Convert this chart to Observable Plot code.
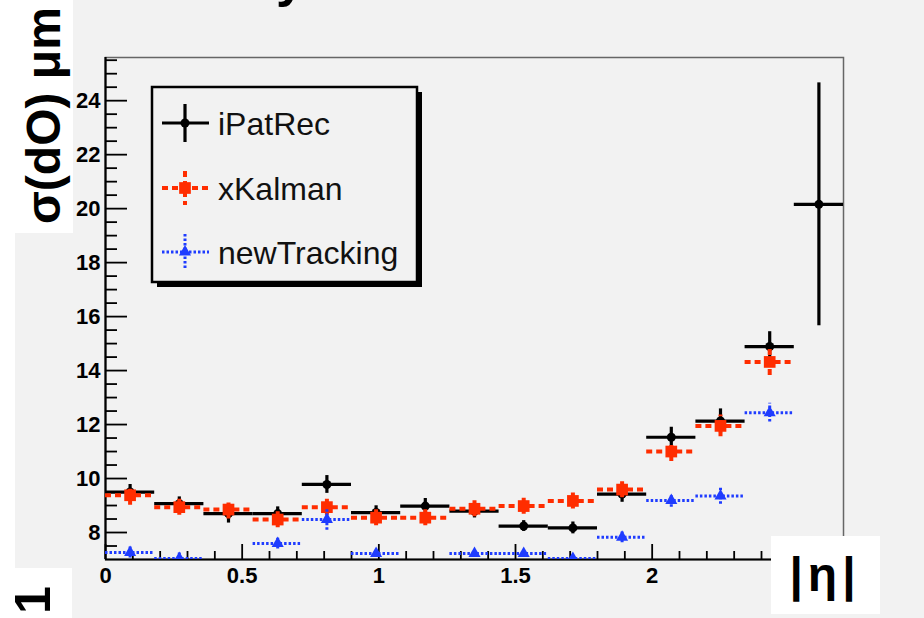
<!DOCTYPE html>
<html>
<head>
<meta charset="utf-8">
<script src="https://cdn.jsdelivr.net/npm/d3@7"></script>
<script src="https://cdn.jsdelivr.net/npm/@observablehq/plot@0.6"></script>
<style>
  html, body { margin: 0; padding: 0; background: #f2f2f2; }
  #wrap { position: relative; width: 924px; height: 618px; overflow: hidden; background: #f2f2f2; }
  #wrap svg { position: absolute; left: 0; top: 0; }
  .plt g[aria-label$="tick label"], .plt g[aria-label$="tick label"] text {
    font-size: 22px !important; font-weight: bold !important; font-family: 'Liberation Sans', Arial, sans-serif;
  }
</style>
</head>
<body>
<div id="wrap"></div>
<script>
// ---- data ----
const binEdges = [0, 0.18, 0.36, 0.54, 0.72, 0.90, 1.08, 1.26, 1.44, 1.62, 1.80, 1.98, 2.16, 2.34, 2.52, 2.70];

const iPatRecVals = [9.50, 9.07, 8.70, 8.70, 9.78, 8.74, 8.98, 8.79, 8.24, 8.17, 9.42, 11.53, 12.13, 14.89, 20.16];
const iPatRecErrs = [0.28, 0.25, 0.35, 0.25, 0.33, 0.25, 0.28, 0.25, 0.20, 0.22, 0.30, 0.37, 0.45, 0.55, 4.50];

const xKalmanVals = [9.38, 8.94, 8.85, 8.48, 8.94, 8.55, 8.55, 8.88, 8.98, 9.17, 9.59, 11.00, 11.95, 14.32, null];
const xKalmanErrs = [0.37, 0.30, 0.35, 0.30, 0.30, 0.30, 0.30, 0.30, 0.30, 0.30, 0.30, 0.37, 0.40, 0.50, null];

const newTrackingVals = [7.26, 7.04, null, 7.59, 8.48, 7.22, null, 7.22, 7.22, 7.04, 7.82, 9.19, 9.35, 12.44, null];
const newTrackingErrs = [0.20, 0.20, null, 0.20, 0.40, 0.15, null, 0.15, 0.15, 0.15, 0.20, 0.25, 0.30, 0.35, null];

const seriesNames = ["iPatRec", "xKalman", "newTracking"];
const seriesColors = ["#000000", "#ff2d00", "#1f3cff"];

const yTicks = [8, 10, 12, 14, 16, 18, 20, 22, 24];
const yTickLabels = ["8", "10", "12", "14", "16", "18", "20", "22", "24"];
const yMinorTicks = d3.range(7.5, 25.6, 0.5).filter(v => v % 2 !== 0);
const xTicks = [0, 0.5, 1, 1.5, 2];
const xTickLabels = ["0", "0.5", "1", "1.5", "2"];
const xMinorTicks = d3.range(0.1, 2.65, 0.1).filter(v => Math.abs(v * 2 - Math.round(v * 2)) > 1e-6);

const yLabel = "σ(dO) μm";
const xLabel = "|η|";

// ---- layout ----
const W = 924, H = 618;
const mL = 105, mR = 81, mT = 57, mB = 59;
const plotW = W - mL - mR, plotH = H - mT - mB;

function seriesMarks(vals, errs, color, dash, width, symbol, r) {
  const data = vals.map((v, i) => ({
    lo: binEdges[i], hi: binEdges[i + 1], x: (binEdges[i] + binEdges[i + 1]) / 2, y: v, e: errs[i]
  })).filter(d => d.y != null);
  return [
    Plot.ruleY(data, {y: "y", x1: "lo", x2: "hi", stroke: color, strokeWidth: width, strokeDasharray: dash, clip: true}),
    Plot.ruleX(data, {x: "x", y1: d => d.y - d.e, y2: d => d.y + d.e, stroke: color, strokeWidth: width, strokeDasharray: dash, clip: true}),
    Plot.dot(data, {x: "x", y: "y", symbol: symbol, r: r, fill: color, stroke: "none", clip: true})
  ];
}

const chart = Plot.plot({
  width: W, height: H,
  marginLeft: mL, marginRight: mR, marginTop: mT, marginBottom: mB,
  style: {background: "transparent", fontFamily: "'Liberation Sans', Arial, sans-serif", fontSize: "22px", fontWeight: "bold", color: "black"},
  x: {domain: [0, 2.7]},
  y: {domain: [7, 25.6]},
  marks: [
    Plot.frame({stroke: "#666", strokeWidth: 1.5}),
    Plot.tickY(yMinorTicks, {y: d => d, insetRight: plotW - 12, stroke: "black", strokeWidth: 1.8}),
    Plot.tickY(yTicks, {y: d => d, insetRight: plotW - 22, stroke: "black", strokeWidth: 1.8}),
    Plot.tickX(xMinorTicks, {x: d => d, insetTop: plotH - 8, stroke: "black", strokeWidth: 1.8}),
    Plot.tickX(xTicks, {x: d => d, insetTop: plotH - 15, stroke: "black", strokeWidth: 1.8}),
    Plot.ruleX([0], {stroke: "black", strokeWidth: 2.2}),
    Plot.ruleY([7], {stroke: "black", strokeWidth: 2.2}),
    Plot.axisY({ticks: yTicks, tickFormat: (d, i) => yTickLabels[i], tickSize: 0, tickPadding: 5, label: null, fontSize: 22, fontWeight: "bold"}),
    Plot.axisX({ticks: xTicks, tickFormat: (d, i) => xTickLabels[i], tickSize: 0, tickPadding: 8, label: null, fontSize: 22, fontWeight: "bold"}),
    ...seriesMarks(iPatRecVals, iPatRecErrs, seriesColors[0], null, 3.2, "circle", 4.5),
    ...seriesMarks(xKalmanVals, xKalmanErrs, seriesColors[1], "6,4", 4, "square", 6.6),
    ...seriesMarks(newTrackingVals, newTrackingErrs, seriesColors[2], "2.5,2", 3, "triangle", 4.5)
  ]
});
chart.classList.add("plt");
document.getElementById("wrap").appendChild(chart);

// ---- overlay: white patches, labels, legend ----
const ov = d3.select("#wrap").append("svg").attr("width", W).attr("height", H);
const patches = [[0, 0, 73, 233], [0, 233, 15, 335], [0, 568, 72, 50], [771, 536, 109, 78]];
ov.selectAll("rect.patch").data(patches).join("rect")
  .attr("x", d => d[0]).attr("y", d => d[1]).attr("width", d => d[2]).attr("height", d => d[3])
  .attr("fill", "white");

// partial title glyph (cut off at top of the crop)
ov.append("text").attr("x", 276).attr("y", -4).attr("font-size", 52).attr("font-weight", "bold")
  .attr("font-family", "'Liberation Sans', Arial, sans-serif").text("y");

// y label
ov.append("text").attr("transform", "translate(60,224) rotate(-90)")
  .attr("font-size", 48).attr("font-weight", "bold")
  .attr("font-family", "'Liberation Sans', Arial, sans-serif")
  .text(yLabel);

// stray rotated "1" bottom-left
ov.append("text").attr("transform", "translate(50,614) rotate(-90)")
  .attr("font-size", 50).attr("font-weight", "bold")
  .attr("font-family", "'Liberation Sans', Arial, sans-serif").text("1");

// x label
ov.append("text").attr("x", 825).attr("y", 591).attr("text-anchor", "middle")
  .attr("font-size", 48).attr("font-weight", "bold").attr("letter-spacing", 5)
  .attr("font-family", "'Liberation Sans', Arial, sans-serif").text(xLabel);

// legend
const lg = ov.append("g");
lg.append("rect").attr("x", 157).attr("y", 92).attr("width", 265).attr("height", 195).attr("fill", "black");
lg.append("rect").attr("x", 152).attr("y", 87).attr("width", 265).attr("height", 195)
  .attr("fill", "#f2f2f2").attr("stroke", "black").attr("stroke-width", 2.5);
const rowsY = [123, 188, 252];
const dashes = [null, "6,4", "2.5,2"];
const widths = [3.2, 4, 3];
const vHalf = [19, 17, 18];
rowsY.forEach((cy, i) => {
  const c = seriesColors[i];
  lg.append("line").attr("x1", 162).attr("x2", 209).attr("y1", cy).attr("y2", cy)
    .attr("stroke", c).attr("stroke-width", widths[i]).attr("stroke-dasharray", dashes[i]);
  lg.append("line").attr("x1", 185).attr("x2", 185).attr("y1", cy - vHalf[i]).attr("y2", cy + vHalf[i])
    .attr("stroke", c).attr("stroke-width", widths[i]).attr("stroke-dasharray", dashes[i]);
  const sym = [d3.symbolCircle, d3.symbolSquare, d3.symbolTriangle][i];
  const r = [4.5, 6.6, 4.5][i];
  lg.append("path").attr("transform", `translate(185,${cy})`)
    .attr("d", d3.symbol(sym, r * r * Math.PI)()).attr("fill", c);
  lg.append("text").attr("x", 218).attr("y", cy + 12).attr("font-size", 32)
    .attr("font-family", "'Liberation Sans', Arial, sans-serif").attr("fill", "#111").text(seriesNames[i]);
});
</script>
</body>
</html>
